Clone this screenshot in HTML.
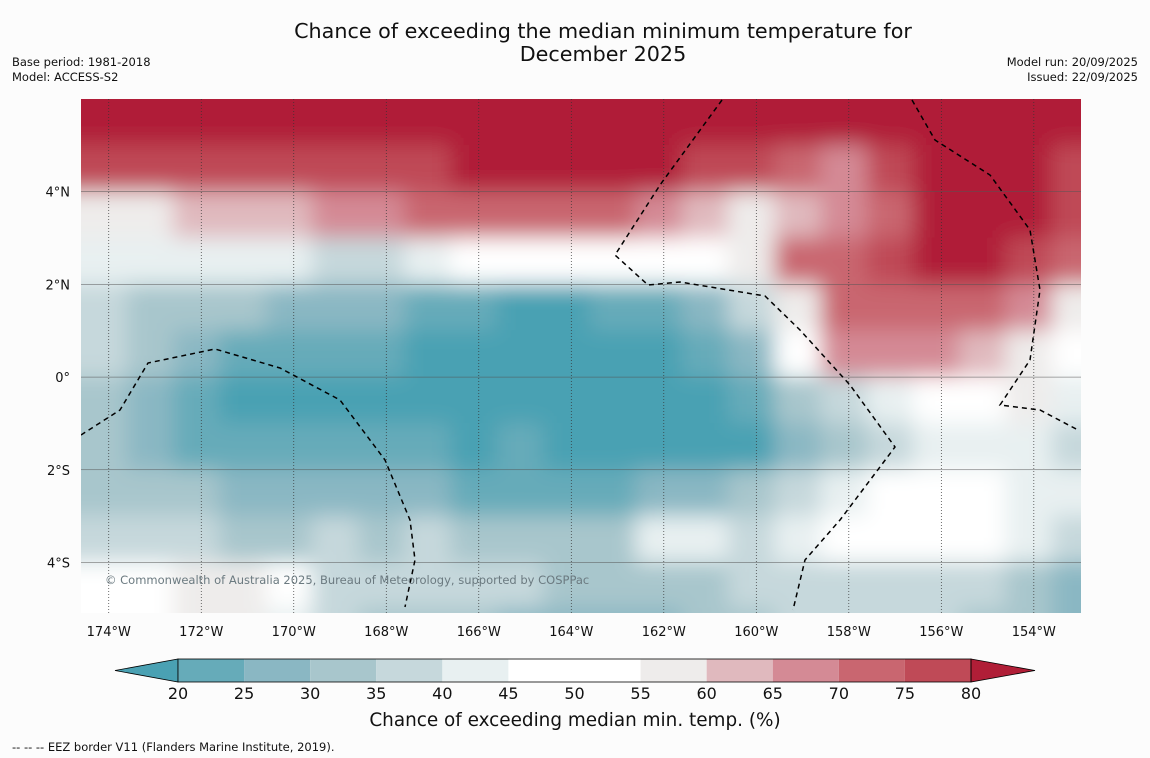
<!DOCTYPE html>
<html><head><meta charset="utf-8"><style>
body{margin:0;background:#fcfcfc;font-family:"DejaVu Sans","Liberation Sans",sans-serif;}
svg{display:block}
</style></head><body>
<svg id="chart" width="1150" height="758" viewBox="0 0 1150 758">
<defs>
<clipPath id="plotclip"><rect x="81" y="99" width="1000" height="514"/></clipPath>
<filter id="smooth" x="-5%" y="-5%" width="110%" height="110%"><feGaussianBlur stdDeviation="11"/></filter>
</defs>
<rect width="1150" height="758" fill="#fcfcfc"/>
<text x="603" y="38" text-anchor="middle" font-size="20.7" fill="#111">Chance of exceeding the median minimum temperature for</text>
<text x="603" y="61" text-anchor="middle" font-size="20.7" fill="#111">December 2025</text>
<text x="12" y="66" font-size="11.5" fill="#111">Base period: 1981-2018</text>
<text x="12" y="81" font-size="11.5" fill="#111">Model: ACCESS-S2</text>
<text x="1138" y="66" font-size="11.5" fill="#111" text-anchor="end">Model run: 20/09/2025</text>
<text x="1138" y="81" font-size="11.5" fill="#111" text-anchor="end">Issued: 22/09/2025</text>
<g clip-path="url(#plotclip)">
<g id="cells" filter="url(#smooth)"></g>
<g id="grid"></g>
<g fill="none" stroke="#000" stroke-width="1.5" stroke-dasharray="5,4">
<path d="M81,435 L120,410 L148,363 L215,349 L280,368 L340,400 L385,460 L410,520 L415,560 L405,607"/>
<path d="M722,100 L660,185 L615,255 L648,285 L680,282 L765,296 L800,330 L850,385 L895,447 L840,520 L805,560 L793,610"/>
<path d="M912,100 L935,140 L990,175 L1030,230 L1040,290 L1030,360 L1000,405 L1040,410 L1078,430"/>
</g>
<text x="105" y="584" font-size="11.5" fill="#6b7a80">© Commonwealth of Australia 2025, Bureau of Meteorology, supported by COSPPac</text>
</g>
<g id="axes"></g>
<g id="colorbar"></g>
<text x="575" y="726" text-anchor="middle" font-size="18.4" fill="#111">Chance of exceeding median min. temp. (%)</text>
<text x="12" y="751" font-size="11.5" fill="#111">--  --  -- EEZ border V11 (Flanders Marine Institute, 2019).</text>
</svg>
<script>
const lonTicks=[-174,-172,-170,-168,-166,-164,-162,-160,-158,-156,-154];
const latTicks=[4,2,0,-2,-4];
const levels=[20,25,30,35,40,45,50,55,60,65,70,75,80];
const bandColors=["#4aa1b3","#66abb9","#8ab7c3","#a8c6cc","#c6d8dc","#e8f0f1","#ffffff","#ffffff","#eeeceb","#e0b9be","#d48a95","#c96670","#bf4a57","#b01e37"];
const gridLon0=-174.6, gridLat0=6.0;
const r0=[85,85,85,85,85,85,85,85,85,85,85,85,85,85,85,85,85,85,85,85,85,85];
const r1=[77,77,77,77,77,77,77,77,85,85,85,85,85,77,77,72,67,77,85,85,85,77];
const r2=[57,57,62,62,62,67,67,72,72,72,72,72,67,62,57,62,67,72,85,85,85,77];
const r3=[42,42,42,42,42,37,37,42,48,48,52,52,52,48,57,72,72,77,85,85,77,72];
const r4=[37,32,32,32,27,27,27,22,22,15,15,22,22,27,37,57,72,72,72,72,67,57];
const r5=[37,32,27,22,22,22,22,15,15,15,15,15,15,22,27,48,67,67,67,62,57,48];
const r6=[32,27,22,15,15,15,15,15,15,15,15,15,15,15,22,32,37,42,48,48,57,42];
const r7=[32,27,22,22,22,22,22,22,15,22,15,15,15,15,15,27,32,37,42,42,42,37];
const r8=[32,32,32,27,27,27,27,27,22,22,22,22,27,27,32,37,42,48,48,48,42,42];
const r9=[37,37,37,32,32,37,32,37,32,32,32,32,42,42,37,42,48,48,52,48,42,37];
const r10=[48,48,57,57,48,37,37,37,37,37,32,32,32,32,37,37,37,37,37,37,32,27];
const r11=[48,48,57,57,42,37,32,32,32,27,27,27,27,32,32,37,37,37,37,32,32,27];
const values=[r0,r1,r2,r3,r4,r5,r6,r7,r8,r9,r10,r11];

const NS="http://www.w3.org/2000/svg";
const X0=81,X1=1081,Y0=99,Y1=613;
const LONMIN=-174.6,LONMAX=-152.98,LATMAX=6.0,LATMIN=-5.09;
function xs(lon){return X0+(lon-LONMIN)/(LONMAX-LONMIN)*(X1-X0);}
function ys(lat){return Y0+(LATMAX-lat)/(LATMAX-LATMIN)*(Y1-Y0);}
function colorFor(v){let k=0;while(k<levels.length&&v>=levels[k])k++;return bandColors[k];}
function mk(tag,attrs,parent){const e=document.createElementNS(NS,tag);for(const a in attrs)e.setAttribute(a,attrs[a]);parent.appendChild(e);return e;}

const cells=document.getElementById('cells');
const nR=values.length,nC=values[0].length;
for(let j=-1;j<=nR;j++){for(let i=-1;i<=nC;i++){
 const jj=Math.max(0,Math.min(nR-1,j)),ii=Math.max(0,Math.min(nC-1,i));
 const x=xs(gridLon0+i),y=ys(gridLat0-j);
 const r=mk('rect',{x:x-0.5,y:y-0.5,width:xs(gridLon0+i+1)-x+1,height:ys(gridLat0-j-1)-y+1,fill:colorFor(values[jj][ii])},cells);
 
 
}}

const grid=document.getElementById('grid');
lonTicks.forEach(l=>{const ln=mk('line',{x1:xs(l),x2:xs(l),y1:Y0,y2:Y1,stroke:'#333','stroke-width':0.7,'stroke-dasharray':'1,2'},grid);
 });
latTicks.forEach(l=>{const ln=mk('line',{x1:X0,x2:X1,y1:ys(l),y2:ys(l),stroke:'#555','stroke-width':0.5},grid);
 });

const axes=document.getElementById('axes');
lonTicks.forEach(l=>{const t=mk('text',{x:xs(l),y:636,'font-size':13,'text-anchor':'middle',fill:'#111'},axes);t.textContent=Math.abs(l)+'°W';
 });
latTicks.forEach(l=>{const t=mk('text',{x:70,y:ys(l)+5,'font-size':13,'text-anchor':'end',fill:'#111'},axes);
 t.textContent=l===0?'0°':(Math.abs(l)+'°'+(l>0?'N':'S'));
 });

const cb=document.getElementById('colorbar');
const CB0=178,CB1=971,CBY=659,CBH=23;
function cx(v){return CB0+(v-levels[0])/(levels[levels.length-1]-levels[0])*(CB1-CB0);}
const tl=mk('polygon',{points:`115,${CBY+CBH/2} ${CB0},${CBY} ${CB0},${CBY+CBH}`,fill:bandColors[0],stroke:'#000','stroke-width':0.8},cb);

for(let k=0;k<levels.length-1;k++){const r=mk('rect',{x:cx(levels[k]),y:CBY,width:cx(levels[k+1])-cx(levels[k]),height:CBH,fill:bandColors[k+1]},cb);
 }
const tr=mk('polygon',{points:`${CB1},${CBY} 1035,${CBY+CBH/2} ${CB1},${CBY+CBH}`,fill:bandColors[bandColors.length-1],stroke:'#000','stroke-width':0.8},cb);

const fr=mk('rect',{x:CB0,y:CBY,width:CB1-CB0,height:CBH,fill:'none',stroke:'#000','stroke-width':0.8},cb);

levels.forEach(v=>{const t=mk('text',{x:cx(v),y:699,'font-size':16,'text-anchor':'middle',fill:'#111'},cb);t.textContent=v;
 });
</script>
</body></html>
